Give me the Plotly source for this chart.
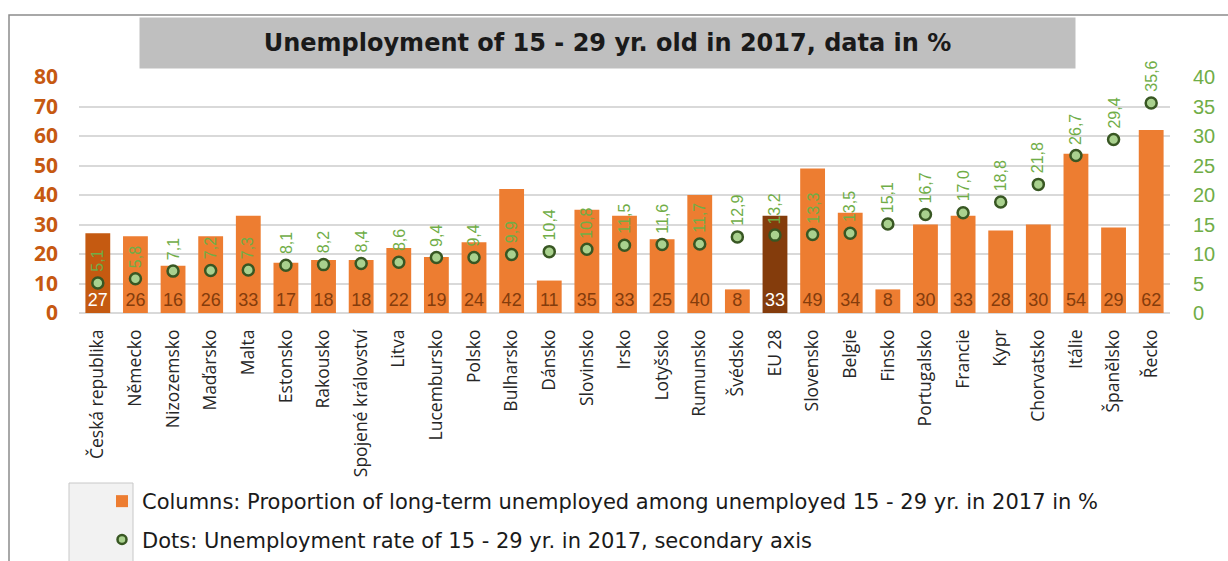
import plotly.graph_objects as go

categories = ["Česká republika", "Německo", "Nizozemsko", "Maďarsko", "Malta", "Estonsko",
              "Rakousko", "Spojené království", "Litva", "Lucembursko", "Polsko", "Bulharsko",
              "Dánsko", "Slovinsko", "Irsko", "Lotyšsko", "Rumunsko", "Švédsko", "EU 28",
              "Slovensko", "Belgie", "Finsko", "Portugalsko", "Francie", "Kypr", "Chorvatsko",
              "Itálie", "Španělsko", "Řecko"]

long_term_share = [27, 26, 16, 26, 33, 17, 18, 18, 22, 19, 24, 42, 11, 35, 33, 25, 40, 8, 33,
                   49, 34, 8, 30, 33, 28, 30, 54, 29, 62]

unemployment_rate = [5.1, 5.8, 7.1, 7.2, 7.3, 8.1, 8.2, 8.4, 8.6, 9.4, 9.4, 9.9, 10.4, 10.8,
                     11.5, 11.6, 11.7, 12.9, 13.2, 13.3, 13.5, 15.1, 16.7, 17.0, 18.8, 21.8,
                     26.7, 29.4, 35.6]

left_ticks = [0, 10, 20, 30, 40, 50, 60, 70, 80]
right_ticks = [0, 5, 10, 15, 20, 25, 30, 35, 40]

title_text = "Unemployment of 15 - 29 yr. old in 2017, data in %"
bar_name = "Columns: Proportion of long-term unemployed among unemployed 15 - 29 yr. in 2017 in %"
dot_name = "Dots: Unemployment rate of 15 - 29 yr. in 2017, secondary axis"

# styling
ORANGE = "#ED7D31"
special_fill = {"Česká republika": "#C55A11", "EU 28": "#843C0C"}
bar_colors = [special_fill.get(c, ORANGE) for c in categories]
bar_text_colors = ["#FFFFFF" if c in special_fill else "#843C0C" for c in categories]
NARROW = "Liberation Sans Narrow, Arial Narrow, Liberation Sans, sans-serif"
UI = "Open Sans, Noto Sans, DejaVu Sans, sans-serif"
WIDE = "DejaVu Sans, Verdana, sans-serif"

W, H = 1228, 561
L, R, T, B = 79, 58, 77, 248
pw = W - L - R
ph = H - T - B


def px_x(x):
    return (x - L) / pw


def px_y(y):
    return (H - B - y) / ph


fig = go.Figure()

fig.add_trace(go.Bar(
    x=categories, y=long_term_share, name=bar_name,
    marker=dict(color=bar_colors, line=dict(width=0)),
    text=[str(v) for v in long_term_share],
    textposition="inside", insidetextanchor="start",
    textfont=dict(family=NARROW, size=18, color=bar_text_colors),
    textangle=0, cliponaxis=False, hoverinfo="skip",
    showlegend=False,
))

fig.add_trace(go.Scatter(
    x=categories, y=unemployment_rate, name=dot_name, yaxis="y2", mode="markers",
    marker=dict(symbol="circle", size=11, color="#A9D18E", line=dict(color="#385723", width=2.5)),
    hoverinfo="skip", showlegend=False,
))

# legend entries
fig.add_trace(go.Scatter(
    x=[None], y=[None], name=bar_name, mode="markers",
    marker=dict(symbol="square", size=12, color=ORANGE), legendgroup="a",
))
fig.add_trace(go.Scatter(
    x=[None], y=[None], name=dot_name, mode="markers", yaxis="y2",
    marker=dict(symbol="circle", size=9, color="#A9D18E", line=dict(color="#385723", width=2.5)),
    legendgroup="b",
))

annotations = []
for c, v in zip(categories, unemployment_rate):
    annotations.append(dict(
        x=c, y=v, xref="x", yref="y2", text=f"{v:.1f}".replace(".", ","),
        textangle=-90, showarrow=False, yanchor="bottom", xanchor="center", yshift=9,
        font=dict(family=NARROW, size=16, color="#70AD47"),
    ))

annotations.append(dict(
    x=px_x(607.5), y=px_y(43), xref="paper", yref="paper", text="<b>" + title_text + "</b>",
    showarrow=False, xanchor="center", yanchor="middle",
    width=933, height=48, bgcolor="#BFBFBF", align="center", valign="middle",
    font=dict(family=WIDE, size=24, color="#1A1A1A"),
))

shapes = [
    dict(type="rect", xref="paper", yref="paper", x0=px_x(9), x1=px_x(1240), y0=px_y(15), y1=px_y(575),
         line=dict(color="#8C8C8C", width=1.5), fillcolor="rgba(0,0,0,0)", layer="below"),
    dict(type="rect", xref="paper", yref="paper", x0=px_x(69), x1=px_x(133), y0=px_y(483), y1=px_y(575),
         line=dict(color="#C8C8C8", width=1), fillcolor="#F2F2F2", layer="below"),
]

fig.update_layout(
    width=W, height=H,
    margin=dict(l=L, r=R, t=T, b=B, pad=0, autoexpand=False),
    paper_bgcolor="white", plot_bgcolor="rgba(0,0,0,0)",
    bargap=0.34,
    showlegend=True,
    legend=dict(x=px_x(102), y=px_y(481), xanchor="left", yanchor="top",
                bgcolor="rgba(0,0,0,0)", font=dict(family=WIDE, size=21, color="#1A1A1A"),
                traceorder="grouped", tracegroupgap=8, itemclick=False, itemdoubleclick=False),
    xaxis=dict(type="category", tickangle=-90, ticks="", showgrid=False, showline=False,
               tickfont=dict(family=UI, size=17.5, color="#262626"), ticklabelstandoff=12,
               range=[-0.5, len(categories) - 0.5], automargin=False),
    yaxis=dict(range=[0, 80], tickvals=left_ticks, showgrid=True, gridcolor="#D9D9D9", gridwidth=2,
               zeroline=True, zerolinecolor="#D9D9D9", zerolinewidth=2, ticks="",
               tickfont=dict(family=UI, size=21, color="#C65911", weight="bold"),
               ticklabelstandoff=20, automargin=False),
    yaxis2=dict(range=[0, 40], tickvals=right_ticks, overlaying="y", side="right", showgrid=False,
                zeroline=False, ticks="", tickfont=dict(family=NARROW, size=20, color="#70AD47"),
                ticklabelstandoff=22, automargin=False),
    uniformtext=dict(minsize=18, mode="show"),
    annotations=annotations,
    shapes=shapes,
)

fig.write_html("out.html")
